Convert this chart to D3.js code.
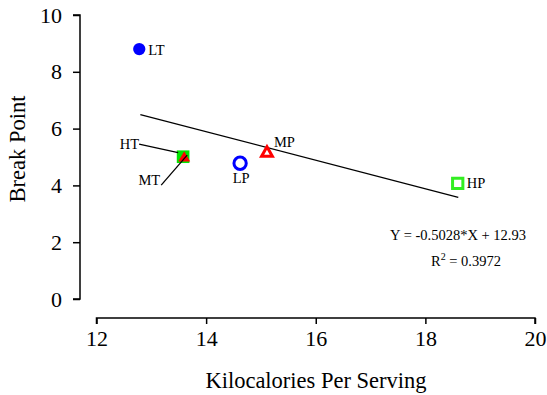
<!DOCTYPE html>
<html>
<head>
<meta charset="utf-8">
<script src="https://cdn.jsdelivr.net/npm/d3@7"></script>
<style>
  html, body { margin: 0; padding: 0; background: #fff; }
  svg { display: block; }
  svg text { font-family: "Liberation Serif", "Times New Roman", serif; fill: #000; }
</style>
</head>
<body>
<svg id="chart" width="547" height="395"></svg>
<script>
// Diet groups: kilocalories per serving vs. break point
const names   = ["LT", "HT", "MT", "LP", "MP", "HP"];
const kcal    = [12.78, 13.58, 13.6, 14.62, 15.11, 18.59];
const breakPt = [8.8, 5.01, 4.96, 4.78, 5.14, 4.07];
const shapes  = ["circle", "square", "triangle", "circle", "triangle", "square"];
const filled  = [true, true, true, false, false, false];
const colors  = ["#0000ff", "#00e600", "#ff0000", "#0000ff", "#ff0000", "#33ee22"];

const xTicks = [12, 14, 16, 18, 20];
const yTicks = [0, 2, 4, 6, 8, 10];

// Linear fit
const slope = -0.5028, intercept = 12.93;
const fitRange = [12.8, 18.6];

const serif = "'Liberation Serif', 'Times New Roman', serif";
const svg = d3.select("#chart");
const x = d3.scaleLinear().domain([12, 20]).range([96.5, 535]);
const y = d3.scaleLinear().domain([0, 10]).range([299, 15]);

// Axes (offset from each other)
const xAxis = svg.append("g").attr("transform", "translate(0,318)")
  .call(d3.axisBottom(x).tickValues(xTicks).tickSize(6).tickSizeOuter(0).tickPadding(6));
const yAxis = svg.append("g").attr("transform", "translate(80,0)")
  .call(d3.axisLeft(y).tickValues(yTicks).tickSize(7).tickSizeOuter(0).tickPadding(11));

[xAxis, yAxis].forEach(g => {
  g.attr("font-family", serif).attr("font-size", 22);
  g.select(".domain").attr("stroke", "#000").attr("stroke-width", 1.5);
  g.selectAll(".tick line").attr("stroke", "#000").attr("stroke-width", 1.5);
  g.selectAll(".tick text").attr("fill", "#000");
});
xAxis.select(".domain").attr("d", `M${x(12)},6V0H${x(20)}V6`);
yAxis.select(".domain").attr("d", `M-7,${y(10)}H0V${y(0)}H-7`);

// Axis titles
svg.append("text").attr("x", 316).attr("y", 388).attr("text-anchor", "middle")
  .attr("font-size", 22.5).text("Kilocalories Per Serving");
svg.append("text").attr("transform", "translate(25,149) rotate(-90)")
  .attr("text-anchor", "middle").attr("font-size", 22.5).text("Break Point");

// Regression line
svg.append("line")
  .attr("x1", x(fitRange[0])).attr("y1", y(slope * fitRange[0] + intercept))
  .attr("x2", x(fitRange[1])).attr("y2", y(slope * fitRange[1] + intercept))
  .attr("stroke", "#000").attr("stroke-width", 1.3);

// Points (squares first so overlapping triangles sit on top)
const data = names.map((n, i) => ({ n, x: kcal[i], y: breakPt[i], shape: shapes[i], filled: filled[i], color: colors[i] }));
const order = ["square", "circle", "triangle"];
const sorted = data.slice().sort((a, b) => order.indexOf(a.shape) - order.indexOf(b.shape));

const sym = { circle: d3.symbolCircle, square: d3.symbolSquare, triangle: d3.symbolTriangle };
const sizes = { circle: [119, 119], square: [106, 160], triangle: [50, 62] };
svg.append("g").selectAll("path").data(sorted).join("path")
  .attr("transform", d => `translate(${x(d.x)},${y(d.y)})`)
  .attr("d", d => d3.symbol().type(sym[d.shape]).size(sizes[d.shape][d.filled ? 1 : 0])())
  .attr("fill", d => d.filled ? d.color : "none")
  .attr("stroke", d => d.filled ? "none" : d.color)
  .attr("stroke-width", 3);

// Point labels
const byName = Object.fromEntries(data.map(d => [d.n, d]));
const P = n => [x(byName[n].x), y(byName[n].y)];
const lbl = svg.append("g").attr("font-size", 14.5);
lbl.append("text").attr("x", P("LT")[0] + 9).attr("y", P("LT")[1] + 5.5).text("LT");
lbl.append("text").attr("x", P("MP")[0] + 7).attr("y", P("MP")[1] - 6).text("MP");
lbl.append("text").attr("x", P("HP")[0] + 9).attr("y", P("HP")[1] + 5).text("HP");
lbl.append("text").attr("x", P("LP")[0] + 1).attr("y", P("LP")[1] + 20).attr("text-anchor", "middle").text("LP");
lbl.append("text").attr("x", P("HT")[0] - 44).attr("y", P("HT")[1] - 7.5).attr("text-anchor", "end").text("HT");
lbl.append("text").attr("x", P("MT")[0] - 24).attr("y", P("MT")[1] + 27).attr("text-anchor", "end").text("MT");

// Leader lines for the overlapping HT / MT markers
svg.append("line").attr("x1", P("HT")[0] - 44).attr("y1", P("HT")[1] - 12.5)
  .attr("x2", P("HT")[0] - 5).attr("y2", P("HT")[1] - 4)
  .attr("stroke", "#000").attr("stroke-width", 1.3);
svg.append("line").attr("x1", P("MT")[0] - 23).attr("y1", P("MT")[1] + 27)
  .attr("x2", P("MT")[0] + 3).attr("y2", P("MT")[1] - 3)
  .attr("stroke", "#000").attr("stroke-width", 1.3);

// Fit equation
const eq = svg.append("g").attr("font-size", 14.5).attr("text-anchor", "middle");
eq.append("text").attr("x", 458).attr("y", 240).text("Y = -0.5028*X + 12.93");
const r2 = eq.append("text").attr("x", 466).attr("y", 266);
r2.append("tspan").text("R");
r2.append("tspan").attr("dy", -6).attr("font-size", 10).text("2");
r2.append("tspan").attr("dy", 6).text(" = 0.3972");
</script>
</body>
</html>
